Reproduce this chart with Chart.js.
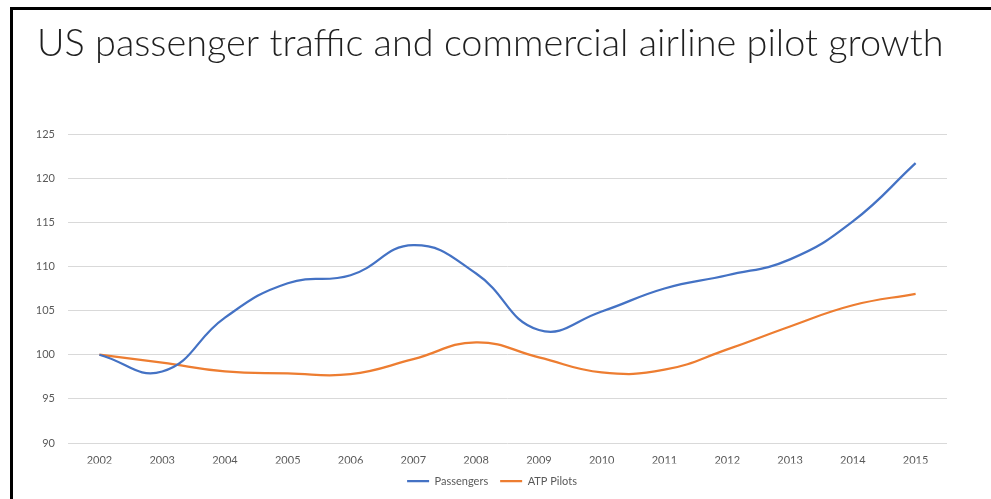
<!DOCTYPE html>
<html>
<head>
<meta charset="utf-8">
<script src="https://cdn.jsdelivr.net/npm/chart.js@4/dist/chart.umd.min.js"></script>
<style>
  html, body { margin: 0; padding: 0; background: #fff; width: 991px; height: 499px; overflow: hidden; }
  #frame {
    position: absolute; left: 10px; top: 7px;
    width: 981px; height: 492px;
    border-left: 3px solid #000; border-top: 3px solid #000;
    background: #fff;
  }
  #chart { display: block; }
</style>
</head>
<body>
<div id="frame"><canvas id="chart" width="978" height="489"></canvas></div>
<script>
// Index values (2002 = 100)
const years = ['2002','2003','2004','2005','2006','2007','2008','2009','2010','2011','2012','2013','2014','2015'];
const passengers = [100, 98.1, 104.2, 108.1, 109.0, 112.4, 109.2, 102.8, 104.9, 107.5, 109.0, 110.8, 115.1, 121.7];
const atpPilots  = [100, 99.1, 98.1, 97.9, 97.8, 99.5, 101.4, 99.7, 98.0, 98.3, 100.6, 103.2, 105.6, 106.9];
const yTicks = [90, 95, 100, 105, 110, 115, 120, 125];

const titleText = 'US passenger traffic and commercial airline pilot growth';
const titleFamily = "Lato, 'Open Sans', 'Liberation Sans', sans-serif";
const labelFamily = "Lato, 'Open Sans', 'Liberation Sans', sans-serif";

// Size the title so it spans the plot header width
const probe = document.createElement('canvas').getContext('2d');
probe.font = '300 100px ' + titleFamily;
const titleSize = 100 * 907 / probe.measureText(titleText).width;
const titleLH = titleSize * 1.2;
const titleTop = 34 - titleLH / 2;
const titleBottom = 124 - titleTop - titleLH;

new Chart(document.getElementById('chart'), {
  type: 'line',
  data: {
    labels: years,
    datasets: [
      {
        label: 'Passengers',
        data: passengers,
        borderColor: '#4472C4',
        backgroundColor: '#4472C4',
        borderWidth: 2.25,
        pointRadius: 0,
        tension: 0.45,
        fill: false
      },
      {
        label: 'ATP Pilots',
        data: atpPilots,
        borderColor: '#ED7D31',
        backgroundColor: '#ED7D31',
        borderWidth: 2.25,
        pointRadius: 0,
        tension: 0.45,
        fill: false
      }
    ]
  },
  options: {
    responsive: false,
    animation: false,
    layout: { padding: { left: 24, right: 44, top: 0, bottom: 2.5 } },
    plugins: {
      title: {
        display: true,
        text: titleText,
        align: 'start',
        color: '#1f1f1f',
        font: { family: titleFamily, size: titleSize, weight: '300', lineHeight: 1.2 },
        padding: { top: titleTop, bottom: titleBottom }
      },
      legend: {
        position: 'bottom',
        labels: {
          usePointStyle: true,
          pointStyle: 'line',
          pointStyleWidth: 22,
          padding: 12,
          color: '#595959',
          font: { family: labelFamily, size: 11 }
        }
      },
      tooltip: { enabled: false }
    },
    scales: {
      x: {
        offset: true,
        grid: { display: false, drawTicks: false },
        border: { display: false },
        ticks: { color: '#595959', padding: 11, maxRotation: 0, font: { family: labelFamily, size: 11 } },
        afterFit: (s) => { s.height = 20.5; }
      },
      y: {
        min: 90,
        max: 125,
        afterBuildTicks: (s) => { s.ticks = yTicks.map(v => ({ value: v })); },
        grid: { color: '#d9d9d9', lineWidth: 1, drawTicks: false },
        border: { display: false },
        ticks: { color: '#595959', padding: 13, font: { family: labelFamily, size: 11 } },
        afterFit: (s) => { s.width = 31; }
      }
    }
  }
});
</script>
</body>
</html>
